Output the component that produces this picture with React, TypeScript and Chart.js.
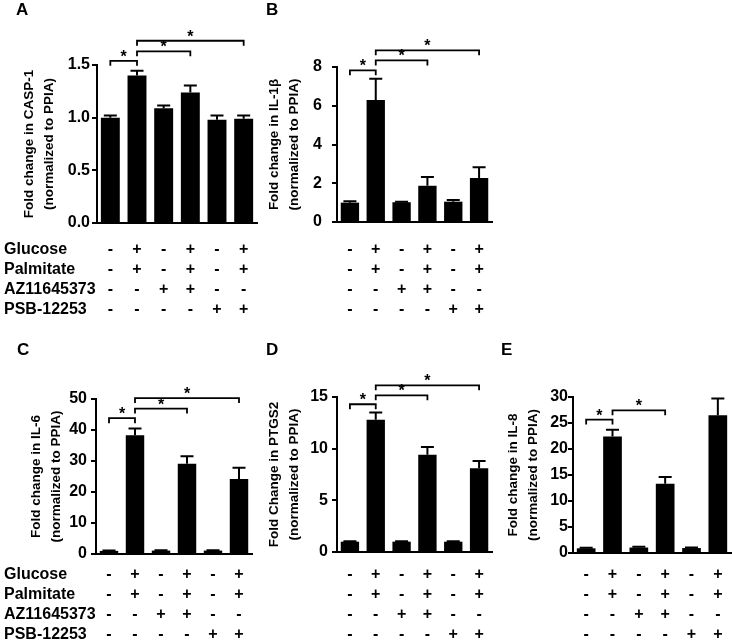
import React, { useEffect, useRef } from 'react';
import { Chart, registerables } from 'chart.js';
Chart.register(...registerables);

const FONT = '"Liberation Sans", Arial, Helvetica, sans-serif';

// ---- data ----
const categories = ['Control', 'Glc+Pal', 'AZ', 'Glc+Pal+AZ', 'PSB', 'Glc+Pal+PSB'];
const treatmentNames = ['Glucose', 'Palmitate', 'AZ11645373', 'PSB-12253'];
const glucoseRow = ['-', '+', '-', '+', '-', '+'];
const palmitateRow = ['-', '+', '-', '+', '-', '+'];
const azRow = ['-', '-', '+', '+', '-', '-'];
const psbRow = ['-', '-', '-', '-', '+', '+'];

const casp1Mean = [1.0, 1.4, 1.09, 1.24, 0.98, 0.99];
const casp1Sem = [0.02, 0.045, 0.025, 0.065, 0.04, 0.03];
const il1bMean = [1.0, 6.3, 1.02, 1.87, 1.05, 2.27];
const il1bSem = [0.07, 1.1, 0.03, 0.45, 0.08, 0.55];
const il6Mean = [1.0, 38.3, 1.1, 29.1, 1.1, 24.2];
const il6Sem = [0.15, 2.2, 0.1, 2.4, 0.1, 3.6];
const ptgs2Mean = [1.0, 12.8, 1.0, 9.4, 1.0, 8.1];
const ptgs2Sem = [0.05, 0.7, 0.05, 0.75, 0.05, 0.7];
const il8Mean = [0.9, 22.4, 1.05, 13.3, 0.95, 26.5];
const il8Sem = [0.1, 1.3, 0.15, 1.3, 0.1, 3.2];

const casp1Ticks = [0, 0.5, 1.0, 1.5];
const il1bTicks = [0, 2, 4, 6, 8];
const il6Ticks = [0, 10, 20, 30, 40, 50];
const ptgs2Ticks = [0, 5, 10, 15];
const il8Ticks = [0, 5, 10, 15, 20, 25, 30];

// significance brackets: [fromIndex, toIndex, level in axis units]
const casp1Sig = [[0, 1, 1.54], [1, 3, 1.63], [1, 5, 1.73]];
const il1bSig = [[0, 1, 7.83], [1, 3, 8.34], [1, 5, 8.86]];
const il6Sig = [[0, 1, 43.8], [1, 3, 46.9], [1, 5, 50.3]];
const ptgs2Sig = [[0, 1, 14.3], [1, 3, 15.16], [1, 5, 16.13]];
const il8Sig = [[0, 1, 25.65], [1, 3, 27.44]];

type Panel = {
  letter: string; title: string[]; mean: number[]; sem: number[]; ticks: number[]; decimals: number;
  sig: number[][]; showRowLabels: boolean;
  left: number; top: number; width: number; height: number;
  padL: number; padR: number; padT: number; padB: number; axisX: number; tickPad: number;
  rowBase: number; letterX: number; letterY: number;
};

const panels: Panel[] = [
  { letter: 'A', title: ['Fold change in CASP-1', '(normalized to PPIA)'], mean: casp1Mean, sem: casp1Sem, ticks: casp1Ticks, decimals: 1, sig: casp1Sig, showRowLabels: true,
    left: 0, top: 0, width: 262, height: 325, padL: 20, padR: 5, padT: 65, padB: 102, axisX: 97, tickPad: 2, rowBase: 253.5, letterX: 16, letterY: 15 },
  { letter: 'B', title: ['Fold change in IL-1β', '(normalized to PPIA)'], mean: il1bMean, sem: il1bSem, ticks: il1bTicks, decimals: 0, sig: il1bSig, showRowLabels: false,
    left: 240, top: 0, width: 262, height: 325, padL: 25, padR: 10, padT: 67, padB: 103, axisX: 97, tickPad: 10, rowBase: 253.5, letterX: 26, letterY: 15 },
  { letter: 'C', title: ['Fold change in IL-6', '(normalized to PPIA)'], mean: il6Mean, sem: il6Sem, ticks: il6Ticks, decimals: 0, sig: il6Sig, showRowLabels: true,
    left: 0, top: 330, width: 262, height: 311, padL: 27, padR: 10, padT: 69, padB: 87, axisX: 96, tickPad: 4, rowBase: 249, letterX: 17, letterY: 25 },
  { letter: 'D', title: ['Fold Change in PTGS2', '(normalized to PPIA)'], mean: ptgs2Mean, sem: ptgs2Sem, ticks: ptgs2Ticks, decimals: 0, sig: ptgs2Sig, showRowLabels: false,
    left: 240, top: 330, width: 262, height: 311, padL: 25, padR: 10, padT: 67, padB: 89, axisX: 97, tickPad: 4, rowBase: 249, letterX: 26, letterY: 25 },
  { letter: 'E', title: ['Fold change in IL-8', '(normalized to PPIA)'], mean: il8Mean, sem: il8Sem, ticks: il8Ticks, decimals: 0, sig: il8Sig, showRowLabels: false,
    left: 476, top: 330, width: 256, height: 311, padL: 28, padR: 1, padT: 67, padB: 88, axisX: 97, tickPad: 0, rowBase: 249, letterX: 25, letterY: 25 },
];

function makePlugin(p: Panel) {
  return {
    id: 'extras' + p.letter,
    afterDraw(chart: any) {
      const ctx = chart.ctx as CanvasRenderingContext2D;
      const xs = chart.scales.x;
      const ys = chart.scales.y;
      ctx.save();
      ctx.strokeStyle = '#000';
      ctx.fillStyle = '#000';
      // error bars (upper)
      ctx.lineWidth = 2;
      p.mean.forEach((m, i) => {
        const x = xs.getPixelForValue(i);
        const y0 = ys.getPixelForValue(m);
        const y1 = ys.getPixelForValue(m + p.sem[i]);
        ctx.beginPath();
        ctx.moveTo(x, y0);
        ctx.lineTo(x, y1);
        ctx.moveTo(x - 6.5, y1);
        ctx.lineTo(x + 6.5, y1);
        ctx.stroke();
      });
      // significance brackets
      ctx.lineWidth = 1.8;
      ctx.font = `bold 16px ${FONT}`;
      ctx.textAlign = 'center';
      ctx.textBaseline = 'alphabetic';
      p.sig.forEach(([a, b, lvl]) => {
        const xa = xs.getPixelForValue(a);
        const xb = xs.getPixelForValue(b);
        const y = ys.getPixelForValue(lvl);
        ctx.beginPath();
        ctx.moveTo(xa, y + 5);
        ctx.lineTo(xa, y);
        ctx.lineTo(xb, y);
        ctx.lineTo(xb, y + 5);
        ctx.stroke();
        ctx.fillText('*', (xa + xb) / 2, y + 1);
      });
      // treatment table
      const rows = [glucoseRow, palmitateRow, azRow, psbRow];
      ctx.font = `bold 16px ${FONT}`;
      rows.forEach((row, r) => {
        const y = p.rowBase + r * 20;
        if (p.showRowLabels) {
          ctx.textAlign = 'left';
          ctx.fillText(treatmentNames[r], 4, y);
        }
        ctx.textAlign = 'center';
        row.forEach((s, i) => ctx.fillText(s, xs.getPixelForValue(i), y));
      });
      // panel letter
      ctx.textAlign = 'left';
      ctx.font = `bold 17px ${FONT}`;
      ctx.fillText(p.letter, p.letterX, p.letterY);
      ctx.restore();
    },
  };
}

function PanelChart({ p }: { p: Panel }) {
  const ref = useRef<HTMLCanvasElement>(null);
  useEffect(() => {
    const chart = new Chart(ref.current as HTMLCanvasElement, {
      type: 'bar',
      data: {
        labels: categories,
        datasets: [{
          data: p.mean,
          backgroundColor: '#000',
          borderWidth: 0,
          barPercentage: 0.71,
          categoryPercentage: 1.0,
        }],
      },
      options: {
        animation: false,
        responsive: false,
        maintainAspectRatio: false,
        devicePixelRatio: 1,
        layout: { padding: { left: p.padL, right: p.padR, top: p.padT, bottom: p.padB } },
        plugins: { legend: { display: false }, tooltip: { enabled: false }, title: { display: false } },
        scales: {
          x: {
            type: 'category',
            offset: true,
            grid: { display: false },
            ticks: { display: false },
            border: { display: true, color: '#000', width: 2 },
            afterFit: (s: any) => { s.height = 0; },
          },
          y: {
            type: 'linear',
            min: 0,
            max: p.ticks[p.ticks.length - 1],
            afterBuildTicks: (s: any) => { s.ticks = p.ticks.map((v) => ({ value: v })); },
            afterFit: (s: any) => { s.width = p.axisX - p.padL; },
            ticks: {
              color: '#000',
              font: { family: FONT, size: 16, weight: 'bold' },
              padding: p.tickPad,
              callback: (v: any) => Number(v).toFixed(p.decimals),
            },
            grid: { display: true, drawOnChartArea: false, drawTicks: true, tickLength: 5, tickWidth: 2, tickColor: '#000', color: '#000', lineWidth: 2 },
            border: { display: true, color: '#000', width: 2 },
            title: {
              display: true,
              text: p.title,
              color: '#000',
              font: { family: FONT, size: 13.5, weight: 'bold', lineHeight: 1.44 },
              padding: { top: 0, bottom: 0 },
            },
          },
        },
      } as any,
      plugins: [makePlugin(p)],
    });
    return () => chart.destroy();
  }, []);
  return (
    <canvas
      ref={ref}
      width={p.width}
      height={p.height}
      style={{ position: 'absolute', left: p.left, top: p.top, width: p.width, height: p.height, display: 'block' }}
    />
  );
}

export default function App() {
  return (
    <div style={{ position: 'absolute', left: 0, top: 0, width: 732, height: 641, background: '#fff', overflow: 'hidden' }}>
      {panels.map((p) => <PanelChart key={p.letter} p={p} />)}
    </div>
  );
}
